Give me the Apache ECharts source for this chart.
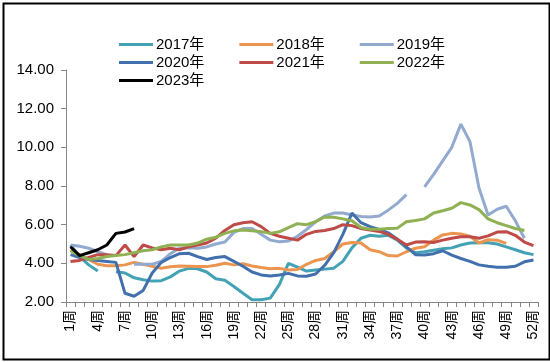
<!DOCTYPE html>
<html>
<head>
<meta charset="utf-8">
<script src="https://cdn.jsdelivr.net/npm/echarts@6/dist/echarts.min.js"></script>
<style>
html,body{margin:0;padding:0;background:#fff;}
#c{width:550px;height:362px;}
</style>
</head>
<body>
<div id="c"></div>
<script>
var weeks = [];
for (var i = 1; i <= 52; i++) weeks.push(i + '周');
var yTicks = [2, 4, 6, 8, 10, 12, 14];

var s2017 = [4.95,4.35,3.92,3.6,null,3.57,3.5,3.25,3.15,3.08,3.1,3.3,3.6,3.74,3.72,3.55,3.2,3.12,2.8,2.45,2.12,2.12,2.2,2.9,4.0,3.8,3.6,3.65,3.7,3.75,4.1,4.8,5.3,5.45,5.4,5.45,5.2,4.8,4.55,4.6,4.68,4.75,4.8,4.95,5.05,5.07,5.07,5.0,4.85,4.7,4.55,4.45];
var s2018 = [4.7,4.45,4.2,3.95,3.88,3.88,3.92,4.05,3.95,3.85,3.75,3.82,3.86,3.85,3.84,3.83,3.9,4.0,3.92,3.98,3.86,3.78,3.72,3.74,3.66,3.68,3.95,4.15,4.25,4.6,5.0,5.08,5.05,4.7,4.6,4.4,4.38,4.6,4.78,4.86,5.2,5.47,5.55,5.52,5.4,5.05,5.22,5.2,5.03,null,null,null];
var s2019 = [4.95,4.88,4.78,4.6,4.45,null,null,3.95,3.95,3.95,4.1,4.5,4.78,4.8,4.78,4.85,5.0,5.1,5.6,5.8,5.8,5.5,5.2,5.12,5.15,5.4,5.75,6.15,6.45,6.6,6.6,6.5,6.42,6.4,6.45,6.75,7.1,7.55,null,7.95,8.6,9.3,10.0,11.2,10.3,7.9,6.5,6.8,6.95,6.2,5.3,null];
var s2020 = [4.45,4.3,4.2,4.15,4.1,4.05,2.45,2.3,2.6,3.5,4.05,4.3,4.5,4.52,4.35,4.2,4.3,4.35,4.1,3.85,3.55,3.4,3.35,3.4,3.48,3.35,3.33,3.45,3.9,4.55,5.5,6.6,6.1,5.9,5.75,5.58,5.25,4.85,4.45,4.43,4.5,4.65,4.42,4.25,4.1,3.92,3.85,3.8,3.8,3.85,4.08,4.17];
var s2021 = [4.1,4.15,4.3,4.45,4.45,4.4,4.95,4.35,4.95,4.8,4.7,4.78,4.7,4.85,4.95,5.05,5.3,5.7,6.0,6.1,6.15,5.9,5.55,5.4,5.3,5.2,5.5,5.65,5.7,5.8,6.0,5.95,5.8,5.72,5.65,5.5,5.25,4.95,5.1,5.12,5.08,5.2,5.3,5.37,5.38,5.3,5.42,5.62,5.64,5.45,5.1,4.92];
var s2022 = [4.65,4.4,4.2,4.25,4.35,4.4,4.45,4.55,4.65,4.7,4.85,4.95,4.95,4.95,5.05,5.25,5.35,5.55,5.68,5.72,5.68,5.64,5.55,5.63,5.85,6.05,6.0,6.15,6.4,6.38,6.3,6.2,5.85,5.76,5.76,5.8,5.82,6.15,6.22,6.3,6.6,6.72,6.85,7.14,7.02,6.78,6.3,6.1,5.95,5.8,5.7,null];
var s2023 = [4.86,4.4,4.55,4.7,4.95,5.55,5.62,5.8];

var names = ['2017年','2018年','2019年','2020年','2021年','2022年','2023年'];
var colors = ['#43A2B4','#EB9550','#93AACF','#4270AD','#BE4B48','#8FB153','#000000'];
var datas = [s2017, s2018, s2019, s2020, s2021, s2022, s2023];

var FONT = '"Liberation Sans", "Noto Sans CJK SC", sans-serif';
var series = names.map(function (n, i) {
  return {
    name: n, type: 'line', data: datas[i], symbol: 'none', smooth: false,
    connectNulls: false,
    lineStyle: { width: 3, color: colors[i] },
    itemStyle: { color: colors[i] }
  };
});

function legendRow(top, data) {
  return {
    data: data, left: 119, top: top, padding: 0, itemGap: 35,
    itemWidth: 34, itemHeight: 3, icon: 'rect',
    textStyle: { fontSize: 15, color: '#000', fontFamily: FONT, padding: [0,0,0,-2] }
  };
}

var chart = echarts.init(document.getElementById('c'));
chart.setOption({
  animation: false,
  backgroundColor: '#fff',
  graphic: [{
    type: 'rect', left: 1, top: 1, silent: true,
    shape: { x: 0, y: 0, width: 546, height: 356 },
    style: { fill: 'none', stroke: '#000', lineWidth: 2 }
  }],
  legend: [
    legendRow(37, names.slice(0, 3)),
    legendRow(55, names.slice(3, 6)),
    legendRow(73, names.slice(6))
  ],
  grid: { left: 66, right: 12, top: 70, bottom: 60 },
  xAxis: {
    type: 'category', data: weeks, boundaryGap: true,
    axisLine: { lineStyle: { color: '#868686', width: 1 } },
    axisTick: { show: true, interval: 0, length: 5, lineStyle: { color: '#868686' } },
    axisLabel: { interval: 2, rotate: 90, fontSize: 14, color: '#000', fontFamily: FONT, margin: 8 }
  },
  yAxis: {
    type: 'value', min: yTicks[0], max: yTicks[yTicks.length - 1], interval: 2,
    splitLine: { show: false },
    axisLine: { show: true, lineStyle: { color: '#868686', width: 1 } },
    axisTick: { show: true, length: 5, lineStyle: { color: '#868686' } },
    axisLabel: { fontSize: 15, color: '#000', fontFamily: FONT, margin: 12,
      formatter: function (v) { return v.toFixed(2); } }
  },
  series: series
});
</script>
</body>
</html>
